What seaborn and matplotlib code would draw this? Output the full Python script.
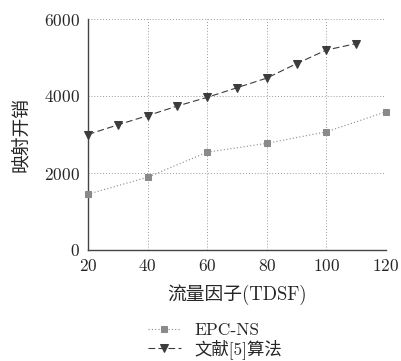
import matplotlib
matplotlib.use("Agg")
import matplotlib.pyplot as plt
import seaborn as sns

sns.set_style("white")
plt.rcParams["font.family"] = ["cmr10", "Noto Sans CJK SC"]
plt.rcParams["axes.formatter.use_mathtext"] = True

# data
x_epc = [20, 40, 60, 80, 100, 120]
y_epc = [1450, 1890, 2540, 2770, 3070, 3590]

x_ref = [20, 30, 40, 50, 60, 70, 80, 90, 100, 110]
y_ref = [3000, 3250, 3490, 3740, 3965, 4215, 4465, 4840, 5195, 5360]

x_ticks = [20, 40, 60, 80, 100, 120]
y_ticks = [0, 2000, 4000, 6000]

fig = plt.figure(figsize=(4.01, 3.61), dpi=100)
ax = fig.add_axes([88 / 401, 1 - 250 / 361, 298 / 401, 231 / 361])

sns.lineplot(x=x_epc, y=y_epc, ax=ax, color="#8a8a8a", linestyle=(0, (1, 2)),
             linewidth=0.8, marker="s", markersize=5, markeredgecolor="#8a8a8a",
             label="EPC-NS", clip_on=False, zorder=5)
sns.lineplot(x=x_ref, y=y_ref, ax=ax, color="#3c3c3c", linestyle=(0, (6, 3)),
             linewidth=0.8, marker="v", markersize=5.5, markeredgecolor="#3c3c3c",
             label="文献[5]算法", clip_on=False, zorder=5)

ax.set_xlim(20, 120)
ax.set_ylim(0, 6000)
ax.set_xticks(x_ticks)
ax.set_yticks(y_ticks)
ax.tick_params(axis="both", labelsize=12.5, length=0, pad=6)
ax.grid(True, linestyle=(0, (1, 2)), color="#9a9a9a", linewidth=0.7)
for s in ["top", "right"]:
    ax.spines[s].set_visible(False)
for s in ["left", "bottom"]:
    ax.spines[s].set_color("#444444")
    ax.spines[s].set_linewidth(1.0)

ax.set_xlabel("流量因子(TDSF)", fontsize=13.5, labelpad=7)
ax.set_ylabel("映射开销", fontsize=13.5, labelpad=10)

handles, labels = ax.get_legend_handles_labels()
ax.get_legend().remove()
fig.legend(handles, labels, loc="upper center", bbox_to_anchor=(215 / 401, 1 - 314 / 361),
           frameon=False, fontsize=12.5, handlelength=1.9, labelspacing=0.05,
           handletextpad=0.8, borderpad=0)

fig.savefig("out.png", dpi=100)
